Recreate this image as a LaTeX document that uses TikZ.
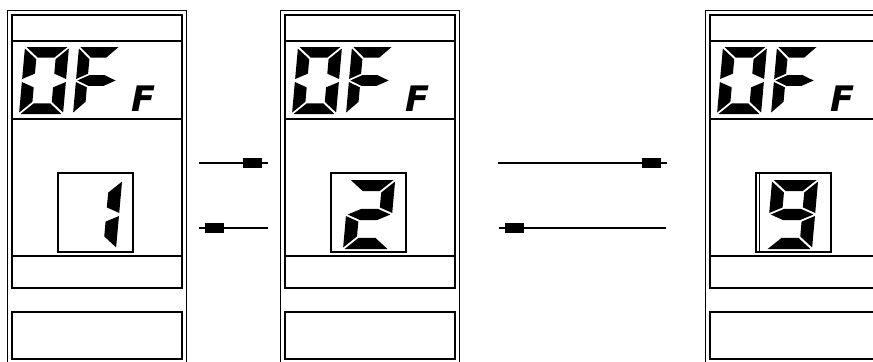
\documentclass[tikz,border=0pt]{standalone}
\usepackage{fontspec}
\newfontfamily\lcdfont{DejaVu Sans}
\usetikzlibrary{arrows.meta}

% seven segments of one LCD digit, cell 1 wide and 2 high
\newcommand\lcdsega{\fill (0.035,2) -- (0.965,2) -- (0.685,1.68) -- (0.315,1.68) -- cycle;}
\newcommand\lcdsegb{\fill (1,1.955) -- (1,1.045) -- (0.72,1.205) -- (0.72,1.635) -- cycle;}
\newcommand\lcdsegc{\fill (1,0.955) -- (1,0.045) -- (0.72,0.365) -- (0.72,0.795) -- cycle;}
\newcommand\lcdsegd{\fill (0.035,0) -- (0.965,0) -- (0.685,0.32) -- (0.315,0.32) -- cycle;}
\newcommand\lcdsege{\fill (0,0.955) -- (0,0.045) -- (0.28,0.365) -- (0.28,0.795) -- cycle;}
\newcommand\lcdsegf{\fill (0,1.955) -- (0,1.045) -- (0.28,1.205) -- (0.28,1.635) -- cycle;}
\newcommand\lcdsegg{\fill (0.035,1) -- (0.315,1.16) -- (0.685,1.16) -- (0.965,1) -- (0.685,0.84) -- (0.315,0.84) -- cycle;}
% #1,#2 lower left corner, #3 width, #4 height, #5 segments
\newcommand\lcddigit[5]{%
  \begin{scope}[shift={(#1,#2)}, x={(#3*0.03cm,0cm)}, y={(#4*0.00135cm,#4*0.015cm)}]
    \foreach \s in #5 {\csname lcdseg\s\endcsname}
  \end{scope}}

\begin{document}
\begin{tikzpicture}[x=0.03cm, y=-0.03cm,
  thinframe/.style={draw, line width=0.7pt},
  thickframe/.style={draw, line width=1.5pt},
  digitbox/.style={draw, line width=1.3pt},
  unitlbl/.style={inner sep=0pt, font=\lcdfont\bfseries\itshape\fontsize{30}{30}\selectfont},
  navarrow/.style={line width=0.9pt, -{Rectangle[length=16pt,width=8pt]Rectangle[length=5pt,width=2pt]}}
]
\useasboundingbox (0,0) rectangle (873,361);
\clip (0,0) rectangle (873,361);
% three display panels
\foreach \L/\n in {12/1, 285/2, 710/3} {
  \draw[thinframe] (\L-5,10) rectangle (\L+174,370);
  \draw[thickframe] (\L,15) rectangle (\L+170,288);
  \draw[thickframe] (\L,41) -- (\L+170,41);
  \draw[thickframe] (\L,119) -- (\L+170,119);
  \draw[thickframe] (\L,256) -- (\L+170,256);
  \draw[thickframe] (\L,312) rectangle (\L+170,359);
  \draw[digitbox] (\L+46,173) rectangle (\L+121,252);
  \node[unitlbl] (unit\n) at (\L+132,98.5) {F};
  % "OF"
  \lcddigit{\L+7}{114}{44}{67}{{a,b,c,d,e,f}}
  \lcddigit{\L+61}{114}{41}{67}{{a,e,f,g}}
}
\draw[thinframe] (759,173) -- (759,252);
% setting digits
\lcddigit{70}{249}{46}{69}{{b,c}}
\lcddigit{343}{249}{46}{69}{{a,b,d,e,g}}
\lcddigit{766}{249}{46}{69}{{a,b,c,d,f,g}}
% arrows between panels
\coordinate (up1s) at (199,163);
\coordinate (up1e) at (268,163);
\coordinate (dn1s) at (268,228);
\coordinate (dn1e) at (199,228);
\coordinate (up2s) at (498,163);
\coordinate (up2e) at (667,163);
\coordinate (dn2s) at (666,228);
\coordinate (dn2e) at (499,228);
\draw[navarrow] (up1s) -- (up1e);
\draw[navarrow] (dn1s) -- (dn1e);
\draw[navarrow] (up2s) -- (up2e);
\draw[navarrow] (dn2s) -- (dn2e);
\end{tikzpicture}
\end{document}
